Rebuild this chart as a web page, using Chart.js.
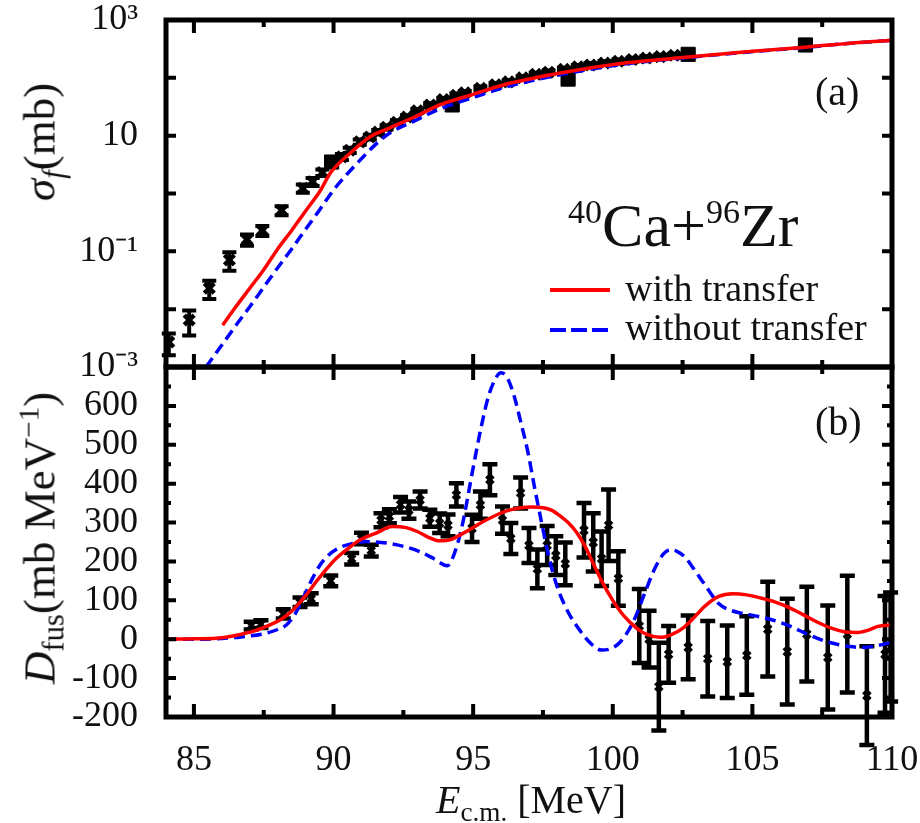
<!DOCTYPE html>
<html>
<head>
<meta charset="utf-8">
<script src="https://cdn.jsdelivr.net/npm/chart.js@4.4.1/dist/chart.umd.min.js"></script>
<style>
  body { margin: 0; background: #fff; }
  #wrap { position: relative; width: 920px; height: 823px; font-family: "Liberation Serif", "Times New Roman", serif; color: #111; }
  #wrap canvas { position: absolute; left: 0; top: 0; }
  .t { position: absolute; white-space: nowrap; line-height: 1; }
  .ytitle { transform: translate(-50%, -50%) rotate(-90deg); font-size: 45px; }
  .sub { font-size: 0.68em; position: relative; top: 0.3em; }
  .sup { font-size: 0.55em; position: relative; top: -0.68em; }
</style>
</head>
<body>
<div id="wrap">
  <canvas id="panelB" width="920" height="823"></canvas>
  <canvas id="panelA" width="920" height="823"></canvas>

  <div class="t ytitle" style="left:40px; top:142px;"><i>σ</i><span class="sub"><i>f</i></span>(mb)</div>
  <div class="t ytitle" style="left:40px; top:538px;"><i>D</i><span class="sub">fus</span>(mb MeV<span class="sup" style="font-size:0.65em;top:-0.55em">−1</span>)</div>
  <div class="t" style="left:531px; top:800px; transform:translate(-50%,-50%); font-size:40px;"><i>E</i><span class="sub">c.m.</span> [MeV]</div>

  <div class="t" style="left:815px; top:72px; font-size:40px;">(a)</div>
  <div class="t" style="left:815px; top:402px; font-size:40px;">(b)</div>
  <div class="t" style="left:568px; top:194px; font-size:62px;"><span class="sup">40</span>Ca+<span class="sup">96</span>Zr</div>

  <svg class="t" style="left:548px; top:280px;" width="66" height="60">
    <line x1="2" y1="10" x2="62" y2="10" stroke="#ff0000" stroke-width="4"/>
    <line x1="2" y1="50" x2="62" y2="50" stroke="#0000ff" stroke-width="4" stroke-dasharray="16 5"/>
  </svg>
  <div class="t" style="left:625px; top:269px; font-size:38px;">with transfer</div>
  <div class="t" style="left:625px; top:308px; font-size:38px;">without transfer</div>
</div>

<script>
// ---- panel (a): fusion cross section (mb) ----
const sigE = [84.1, 84.83, 85.55, 86.27, 86.9, 87.45, 88.14, 88.9, 89.25, 89.6, 90.3, 90.58, 90.94, 91.3, 91.6, 91.9, 92.27, 92.63, 93.0, 93.46, 93.93, 94.4, 94.7, 95.26, 95.8, 96.27, 96.77, 97.24, 97.7, 98.25, 98.75, 99.2, 99.7, 100.2, 100.7, 101.2, 101.7, 102.2];
const sigVal = [0.0027, 0.0065, 0.023, 0.071, 0.16, 0.23, 0.51, 1.23, 1.6, 2.3, 4.3, 5.6, 7.8, 9.5, 11.5, 14, 17, 21, 27, 34, 42, 50, 55, 66, 76, 85, 100, 115, 125, 140, 155, 167, 180, 193, 207, 220, 233, 245];
const sigErr = [0.0011, 0.003, 0.008, 0.025, 0.035, 0.045, 0.09, 0.2, 0.25, 0.3, 0.5, 0.6, 0.8, 0.9, 1.0, 1.2, 1.4, 1.6, 2, 2.5, 3, 3.5, 4, 5, 5, 6, 7, 8, 9, 10, 11, 12, 13, 14, 15, 16, 17, 17];

const sqE = [89.93, 94.25, 98.4, 102.7, 106.9];
const sqVal = [3.5, 34, 95, 255, 370];
const sqErr = [0.3, 3, 8, 20, 30];

const withE_a = [86.03, 86.5, 87.0, 87.5, 88.0, 88.5, 89.0, 89.5, 89.9, 90.6, 91.3, 92.0, 92.9, 93.8, 94.9, 96.1, 97.3, 98.8, 100.5, 102.7, 104.8, 106.9, 108.5, 110.0];
const withVal_a = [0.0053, 0.011, 0.023, 0.048, 0.11, 0.23, 0.5, 1.07, 2.3, 5.0, 9.5, 13.5, 21, 34, 50, 76, 102, 138, 182, 229, 282, 339, 398, 447];

const withoutE_a = [85.43, 86.0, 86.5, 87.0, 87.5, 88.0, 88.5, 89.0, 89.5, 90.0, 90.5, 91.0, 91.5, 92.0, 92.9, 93.8, 94.9, 96.1, 97.3, 98.8, 100.5, 102.7, 104.8, 106.9, 108.5, 110.0];
const withoutVal_a = [0.001, 0.0024, 0.0052, 0.011, 0.024, 0.052, 0.11, 0.24, 0.52, 1.15, 2.2, 4.0, 7.0, 11, 18, 29, 44, 68, 94, 130, 175, 225, 278, 336, 396, 447];

// ---- panel (b): barrier distribution (mb/MeV) ----
const dE = [87.05, 87.4, 88.2, 88.8, 89.2, 89.9, 90.65, 91.0, 91.35, 91.7, 92.0, 92.4, 92.7, 93.1, 93.45, 93.8, 94.1, 94.4, 94.96, 95.26, 95.6, 96.05, 96.35, 96.7, 97.0, 97.3, 97.65, 97.96, 98.3, 98.97, 99.3, 99.6, 99.85, 100.2, 100.95, 101.3, 101.65, 102.0, 102.7, 103.4, 104.1, 104.8, 105.55, 106.25, 106.95, 107.7, 108.4, 109.1, 109.75, 109.95];
const dVal = [35, 39, 65, 95, 104, 150, 207, 259, 228, 306, 316, 346, 332, 358, 311, 298, 293, 371, 285, 345, 410, 306, 259, 376, 241, 181, 241, 215, 194, 280, 249, 207, 293, 156, 34, 0, -122, -39, -21, -50, -58, -42, 26, -32, 13, -47, 13, -145, -39, -20];
const dErr = [10, 10, 12, 12, 14, 14, 15, 15, 15, 18, 18, 20, 22, 22, 22, 25, 28, 30, 35, 35, 40, 35, 40, 40, 45, 50, 50, 50, 55, 70, 75, 70, 92, 70, 95, 73, 113, 73, 82, 97, 93, 101, 122, 136, 122, 134, 150, 127, 150, 140];

const withE_b = [84.0, 85.0, 86.0, 86.7, 87.2, 87.7, 88.1, 88.5, 89.0, 89.4, 89.8, 90.1, 90.5, 90.94, 91.5, 92.1, 92.6, 93.0, 93.4, 93.8, 94.2, 94.5, 94.9, 95.3, 95.7, 96.2, 96.7, 97.1, 97.5, 97.8, 98.1, 98.4, 98.7, 99.0, 99.3, 99.6, 100.0, 100.4, 100.8, 101.2, 101.7, 102.1, 102.5, 102.9, 103.3, 103.8, 104.3, 104.8, 105.3, 105.8, 106.3, 106.8, 107.3, 107.8, 108.3, 108.7, 109.1, 109.5, 110.0];
const withVal_b = [0, 1, 4, 13, 22, 36, 50, 72, 112, 150, 185, 208, 232, 255, 272, 290, 287, 277, 262, 253, 256, 267, 283, 300, 315, 330, 338, 340, 338, 332, 318, 300, 275, 240, 195, 150, 100, 60, 32, 13, 5, 12, 28, 55, 85, 110, 117, 114, 106, 96, 82, 64, 45, 29, 19, 17, 22, 33, 37];

const withoutE_b = [84.0, 85.0, 86.0, 86.7, 87.5, 88.0, 88.3, 88.6, 88.9, 89.2, 89.5, 89.8, 90.2, 90.7, 91.2, 91.7, 92.1, 92.6, 93.1, 93.6, 94.07, 94.3, 94.6, 95.0, 95.3, 95.55, 95.8, 96.0, 96.2, 96.45, 96.7, 96.95, 97.2, 97.45, 97.7, 98.0, 98.4, 98.85, 99.2, 99.6, 99.9, 100.2, 100.5, 100.8, 101.1, 101.5, 101.8, 102.05, 102.3, 102.6, 102.9, 103.3, 103.8, 104.2, 104.6, 105.1, 105.6, 106.3, 107.0, 107.6, 108.1, 108.5, 109.0, 109.5, 110.0];
const withoutVal_b = [0, 0, 2, 6, 14, 25, 36, 62, 104, 150, 189, 215, 235, 246, 251, 249, 245, 237, 225, 207, 189, 215, 290, 441, 550, 625, 670, 685, 675, 630, 560, 485, 390, 300, 215, 137, 70, 20, -10, -28, -25, -12, 15, 55, 110, 181, 218, 230, 226, 210, 181, 140, 91, 75, 67, 60, 52, 35, 12, -5, -14, -19, -21, -16, -8];

// ---- ticks ----
const xMajor = [85, 90, 95, 100, 105, 110];
const xMinor = [87.5, 92.5, 97.5, 102.5, 107.5];
const yTopDecades = [1e-3, 1e-2, 1e-1, 1, 10, 100, 1e3];
const yTopTicks = [1e-3, 1e-1, 10, 1e3];
const yTopLabels = ['10⁻³', '10⁻¹', '10', '10³'];
const yBotMajor = [-200, -100, 0, 100, 200, 300, 400, 500, 600, 700];
const yBotMinor = [-150, -50, 50, 150, 250, 350, 450, 550, 650];

const FONT = '"Liberation Serif", "Times New Roman", serif';
const tickFont = { family: FONT, size: 36, lineHeight: 1 };

function pts(xs, ys) {
    return xs.map((x, i) => ({ x: x, y: ys[i] }));
}

// frame with inward ticks on all four sides
function makeFrame(yMajor, yMinor) {
    return {
        id: 'frame',
        afterDraw(chart) {
            const ctx = chart.ctx, a = chart.chartArea;
            const sx = chart.scales.x, sy = chart.scales.y;
            ctx.save();
            ctx.strokeStyle = '#000';
            ctx.lineWidth = 4;
            ctx.beginPath();
            const vtick = (v, len) => {
                const p = sx.getPixelForValue(v);
                ctx.moveTo(p, a.top); ctx.lineTo(p, a.top + len);
                ctx.moveTo(p, a.bottom); ctx.lineTo(p, a.bottom - len);
            };
            const htick = (v, len) => {
                const p = sy.getPixelForValue(v);
                ctx.moveTo(a.left, p); ctx.lineTo(a.left + len, p);
                ctx.moveTo(a.right, p); ctx.lineTo(a.right - len, p);
            };
            xMajor.forEach(v => vtick(v, 13));
            xMinor.forEach(v => vtick(v, 7));
            yMajor.forEach(v => htick(v, 10));
            yMinor.forEach(v => htick(v, 5));
            ctx.stroke();
            ctx.lineWidth = 5;
            ctx.strokeRect(a.left, a.top, a.right - a.left, a.bottom - a.top);
            ctx.restore();
        }
    };
}

// vertical error bars with caps, drawn right after their own dataset
const errorBars = {
    id: 'errorBars',
    afterDatasetDraw(chart, args) {
        const ds = chart.data.datasets[args.index];
        if (!ds.errors) return;
        const ctx = chart.ctx, sy = chart.scales.y;
        const isLog = sy.type === 'logarithmic';
        ctx.save();
        ctx.strokeStyle = '#000';
        ctx.lineWidth = ds.errWidth;
        ctx.beginPath();
        args.meta.data.forEach((el, i) => {
            const v = ds.data[i].y, e = ds.errors[i];
            const low = isLog ? Math.max(v - e, 1e-6) : v - e;
            const lo = sy.getPixelForValue(low);
            const hi = sy.getPixelForValue(v + e);
            ctx.moveTo(el.x, lo); ctx.lineTo(el.x, hi);
            ctx.moveTo(el.x - ds.capHalf, lo); ctx.lineTo(el.x + ds.capHalf, lo);
            ctx.moveTo(el.x - ds.capHalf, hi); ctx.lineTo(el.x + ds.capHalf, hi);
        });
        ctx.stroke();
        ctx.restore();
    }
};

function curve(label, xs, ys, color, dash) {
    return {
        label: label,
        data: pts(xs, ys),
        showLine: true,
        borderColor: color,
        borderWidth: 3.5,
        borderDash: dash,
        pointRadius: 0,
        cubicInterpolationMode: 'monotone'
    };
}

// top panel (a)
new Chart(document.getElementById('panelA'), {
    type: 'scatter',
    data: {
        datasets: [
            curve('with transfer', withE_a, withVal_a, '#ff0000', []),
            curve('without transfer', withoutE_a, withoutVal_a, '#0000ff', [11, 6]),
            {
                label: 'exp', data: pts(sigE, sigVal), errors: sigErr, errWidth: 4, capHalf: 7,
                pointStyle: 'crossRot', pointRadius: 7, borderColor: '#000', borderWidth: 4.5
            },
            {
                label: 'exp2', data: pts(sqE, sqVal), errors: sqErr, errWidth: 4, capHalf: 7,
                pointStyle: 'rect', pointRadius: 10, backgroundColor: '#000', borderColor: '#000', borderWidth: 1
            }
        ]
    },
    options: {
        responsive: false,
        animation: false,
        devicePixelRatio: 1,
        layout: { padding: { top: 20, bottom: 456, left: 0, right: 28 } },
        plugins: { legend: { display: false }, tooltip: { enabled: false } },
        scales: {
            x: { type: 'linear', min: 84, max: 110, display: false },
            y: {
                type: 'logarithmic', min: 1e-3, max: 1e3,
                grid: { display: false }, border: { display: false },
                afterBuildTicks: s => { s.ticks = yTopTicks.map(v => ({ value: v })); },
                afterFit: s => { s.width = 166; s.paddingTop = 0; s.paddingBottom = 0; },
                ticks: {
                    autoSkip: false, padding: 20, color: '#111', font: tickFont,
                    callback: v => {
                        const i = yTopTicks.findIndex(t => Math.abs(Math.log10(t) - Math.log10(v)) < 1e-6);
                        return i < 0 ? '' : yTopLabels[i];
                    }
                }
            }
        }
    },
    plugins: [errorBars, makeFrame(yTopDecades, [])]
});

// bottom panel (b)
new Chart(document.getElementById('panelB'), {
    type: 'scatter',
    data: {
        datasets: [
            curve('with transfer', withE_b, withVal_b, '#ff0000', []),
            curve('without transfer', withoutE_b, withoutVal_b, '#0000ff', [11, 6]),
            {
                label: 'exp', data: pts(dE, dVal), errors: dErr, errWidth: 4.5, capHalf: 7.5,
                pointStyle: 'crossRot', pointRadius: 5, borderColor: '#000', borderWidth: 3.5
            }
        ]
    },
    options: {
        responsive: false,
        animation: false,
        devicePixelRatio: 1,
        layout: { padding: { top: 367, bottom: 0, left: 0, right: 28 } },
        plugins: { legend: { display: false }, tooltip: { enabled: false } },
        scales: {
            x: {
                type: 'linear', min: 84, max: 110,
                grid: { display: false }, border: { display: false },
                afterBuildTicks: s => { s.ticks = xMajor.map(v => ({ value: v })); },
                afterFit: s => { s.height = 106; s.paddingLeft = 0; s.paddingRight = 0; },
                ticks: { autoSkip: false, maxRotation: 0, padding: 18, color: '#111', font: tickFont, callback: v => String(v) }
            },
            y: {
                type: 'linear', min: -200, max: 700,
                grid: { display: false }, border: { display: false },
                afterBuildTicks: s => { s.ticks = yBotMajor.map(v => ({ value: v })); },
                afterFit: s => { s.width = 166; s.paddingTop = 0; s.paddingBottom = 0; },
                ticks: { autoSkip: false, padding: 20, color: '#111', font: tickFont, callback: v => (v === 700 ? '' : String(v)) }
            }
        }
    },
    plugins: [errorBars, makeFrame(yBotMajor, yBotMinor)]
});
</script>
</body>
</html>
